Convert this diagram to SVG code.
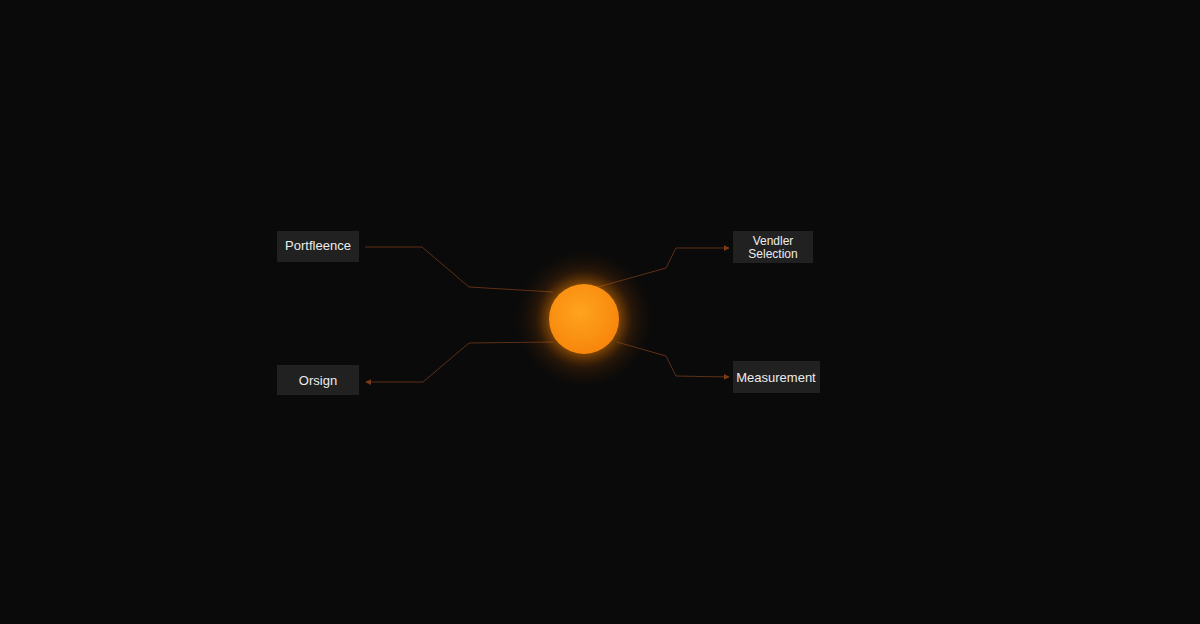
<svg xmlns="http://www.w3.org/2000/svg" width="1200" height="624" viewBox="0 0 1200 624">
<defs>
<style>
.box{fill:#212121}
.lbl{font-family:"Liberation Sans",Arial,sans-serif;font-size:13px;fill:#ececec;text-anchor:middle}
.edge{fill:none;stroke:#5e3016;stroke-width:1}
</style>
<marker id="arr" viewBox="0 0 8 8" refX="7" refY="4" markerWidth="6" markerHeight="6" orient="auto">
<path d="M0,0 L8,4 L0,8 z" fill="#7a3c16"/>
</marker>
<radialGradient id="sun" cx="45%" cy="40%" r="60%">
<stop offset="0" stop-color="#ffa41e"/>
<stop offset="1" stop-color="#f7860c"/>
</radialGradient>
<radialGradient id="glow" cx="50%" cy="50%" r="50%">
<stop offset="0.45" stop-color="#ff8a00" stop-opacity="0.5"/>
<stop offset="0.65" stop-color="#b85400" stop-opacity="0.18"/>
<stop offset="1" stop-color="#000" stop-opacity="0"/>
</radialGradient>
</defs>
<rect width="1200" height="624" fill="#0a0a0a"/>
<g id="connectors">
<path class="edge" d="M365,247 L422,247 L469,287 L553,292"/>
<path class="edge" d="M553,342 L469,343 L423,382 L366,382" marker-end="url(#arr)"/>
<path class="edge" d="M598,287 L666,268 L676,248 L729,248" marker-end="url(#arr)"/>
<path class="edge" d="M617,342 L666,356 L676,376 L729,377" marker-end="url(#arr)"/>
</g>
<g id="core">
<circle cx="584" cy="319" r="74" fill="url(#glow)"/>
<circle cx="584" cy="319" r="35" fill="url(#sun)"/>
</g>
<g id="node-portfleence">
<rect class="box" x="277" y="231" width="82" height="31"/>
<text class="lbl" x="318" y="250">Portfleence</text>
</g>
<g id="node-orsign">
<rect class="box" x="277" y="365" width="82" height="30"/>
<text class="lbl" x="318" y="385">Orsign</text>
</g>
<g id="node-vendler">
<rect class="box" x="733" y="231" width="80" height="32"/>
<text class="lbl" x="773" y="245" style="font-size:12px">Vendler</text>
<text class="lbl" x="773" y="258" style="font-size:12px">Selection</text>
</g>
<g id="node-measurement">
<rect class="box" x="733" y="361" width="87" height="32"/>
<text class="lbl" x="776" y="382">Measurement</text>
</g>
</svg>
